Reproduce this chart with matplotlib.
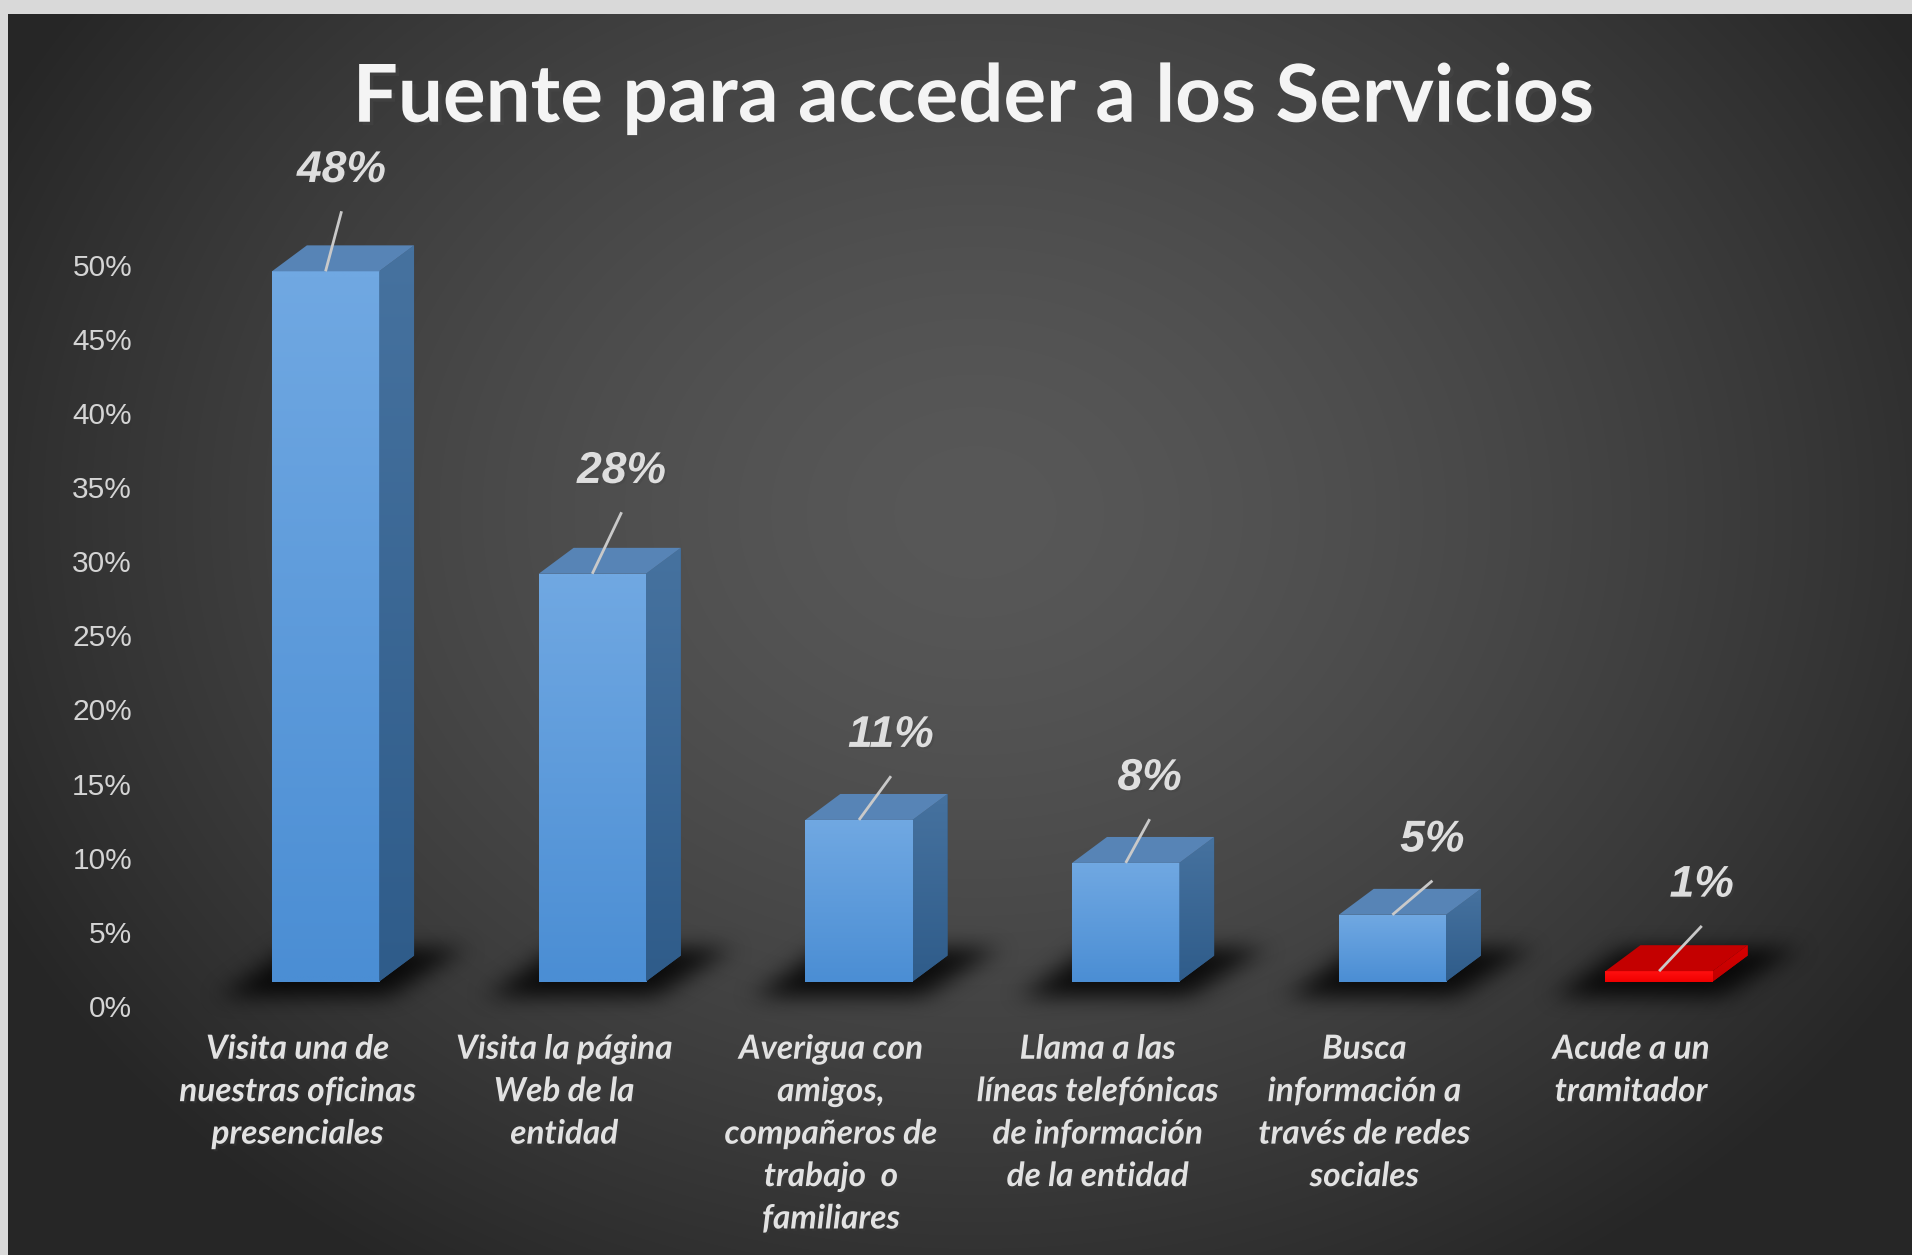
import numpy as np
import matplotlib
matplotlib.use("Agg")
import matplotlib.pyplot as plt
from matplotlib.patches import Polygon
from matplotlib.path import Path
import matplotlib.transforms as mtransforms
import matplotlib.patheffects as pe

# Data
categories = [
    "Visita una de\nnuestras oficinas\npresenciales",
    "Visita la página\nWeb de la\nentidad",
    "Averigua con\namigos,\ncompañeros de\ntrabajo  o\nfamiliares",
    "Llama a las\nlíneas telefónicas\nde información\nde la entidad",
    "Busca\ninformación a\ntravés de redes\nsociales",
    "Acude a un\ntramitador",
]
values = [47.9, 27.5, 10.9, 8.0, 4.5, 0.7]
value_labels = ["48%", "28%", "11%", "8%", "5%", "1%"]
yticks = [0, 5, 10, 15, 20, 25, 30, 35, 40, 45, 50]
ytick_labels = [f"{t}%" for t in yticks]
highlight = [False, False, False, False, False, True]

# Style
W, H = 1912, 1255
front_off = -0.096      # left edge of the front face from category centre
front_w = 0.402
depth_x = 0.131
depth_y = 1.75
base = 1.65             # front face floor (3D offset above the 0% line)
label_dx = [0.06, 0.11, 0.12, 0.09, 0.15, 0.16]
label_dy = [6.8, 6.9, 5.7, 5.7, 5.05, 5.8]

blue = dict(front_top="#70a8e2", front_bot="#4b8ed4", top="#5784b6",
            side_top="#46729f", side_bot="#2f5c8a")
red = dict(front_top="#ff1010", front_bot="#f00000", top="#c40000",
           side_top="#d80000", side_bot="#c00000")

fig = plt.figure(figsize=(W / 100, H / 100), dpi=100)
fig.patch.set_facecolor("#d9d9d9")

# dark radial background panel
px0, py0 = 8, 14
bg = fig.add_axes([px0 / W, 0, (W - px0) / W, (H - py0) / H])
bg.set_zorder(0)
bg.axis("off")
yy, xx = np.mgrid[py0:H, px0:W]
r = np.sqrt(((xx - 975) / 1100.0) ** 2 + ((yy - 512) / 900.0) ** 2)
t = np.clip(r, 0, 1) ** 1.5
g = (0x58 - t * (0x58 - 0x26)) / 255.0
bg.imshow(np.dstack([g, g, g]), aspect="auto", interpolation="bilinear")

ax = fig.add_axes([0.0789, 0.19841, 0.8788, 0.7325])
ax.set_zorder(2)
ax.set_facecolor("none")
ax.set_xlim(-0.55, 5.75)
ax.set_ylim(0, 62)
for s in ax.spines.values():
    s.set_visible(False)
ax.set_yticks(yticks, ytick_labels)
ax.set_xticks([])
ax.tick_params(axis="y", length=0, pad=13.5, labelsize=21.5, labelcolor="#d4d4d4")
for lab in ax.get_yticklabels():
    lab.set_family("Liberation Sans")


def vgrad(c_top, c_bot):
    a = np.array(matplotlib.colors.to_rgb(c_top))
    b = np.array(matplotlib.colors.to_rgb(c_bot))
    s = np.linspace(0, 1, 64)[:, None]
    return (a * (1 - s) + b * s)[:, None, :]


def blur1d(a, rad, axis):
    a = np.moveaxis(a, axis, -1)
    p = np.pad(a, [(0, 0), (rad + 1, rad)], mode="edge")
    c = np.cumsum(p, axis=-1)
    out = (c[:, 2 * rad + 1:] - c[:, :-2 * rad - 1]) / (2 * rad + 1)
    return np.moveaxis(out, -1, axis)


# soft floor shadows, rasterised in pixel space and blurred
mask = np.zeros((H, W))
gy, gx = np.mgrid[0:H, 0:W]
grid = np.column_stack([gx.ravel() + 0.5, gy.ravel() + 0.5])
for i in range(len(values)):
    fl = i + front_off
    pts = [(fl - 0.19, 0.6), (fl + 0.44, 0.6), (fl + 0.72, 3.9), (fl + 0.06, 3.9)]
    path = Path(ax.transData.transform(pts))
    mask += path.contains_points(grid).reshape(H, W)
mask = np.clip(mask, 0, 1)
for _ in range(3):
    mask = blur1d(mask, 9, 0)
    mask = blur1d(mask, 12, 1)
shadow = np.zeros((H, W, 4))
shadow[..., 3] = 0.82 * mask
ov = fig.add_axes([0, 0, 1, 1])
ov.set_zorder(1)
ov.axis("off")
ov.imshow(shadow, extent=[0, W, 0, H], origin="lower", aspect="auto",
          interpolation="bilinear")
ov.set_xlim(0, W)
ov.set_ylim(0, H)

# bars: front faces through ax.bar, then side and top faces
centers = [i + front_off + front_w / 2 for i in range(len(values))]
bars = ax.bar(centers, values, width=front_w, bottom=base, zorder=3,
              color=[red["front_bot"] if h else blue["front_bot"] for h in highlight],
              edgecolor="none")

for i, (bar, v) in enumerate(zip(bars, values)):
    pal = red if highlight[i] else blue
    fl = bar.get_x()
    fr = fl + bar.get_width()
    y0 = bar.get_y()
    y1 = y0 + bar.get_height()
    im = ax.imshow(vgrad(pal["front_top"], pal["front_bot"]), aspect="auto",
                   extent=[fl, fr, y0, y1], zorder=3.1, interpolation="bilinear")
    im.set_clip_path(bar)
    side = Polygon([(fr, y0), (fr + depth_x, y0 + depth_y),
                    (fr + depth_x, y1 + depth_y), (fr, y1)], closed=True,
                   facecolor=pal["side_bot"], edgecolor="none", zorder=3)
    ax.add_patch(side)
    ims = ax.imshow(vgrad(pal["side_top"], pal["side_bot"]), aspect="auto",
                    extent=[fr, fr + depth_x, y0, y1 + depth_y], zorder=3.1,
                    interpolation="bilinear")
    ims.set_clip_path(side)
    ax.add_patch(Polygon([(fl, y1), (fr, y1), (fr + depth_x, y1 + depth_y),
                          (fl + depth_x, y1 + depth_y)], closed=True,
                         facecolor=pal["top"], edgecolor="none", zorder=3.2))

    # data label with leader line
    cx = fl + front_w / 2
    lx, ly = cx + label_dx[i], y1 + label_dy[i]
    ax.plot([lx, cx], [ly - 2.75, y1], color="#c9c9c9", lw=2, zorder=4,
            solid_capstyle="butt")
    ax.text(lx, ly, value_labels[i], ha="center", va="center", fontsize=32,
            fontweight="bold", style="italic", family="Liberation Sans",
            color="#dedede", zorder=5,
            path_effects=[pe.withSimplePatchShadow(offset=(1.5, -1.5), alpha=0.35)])

ax.set_xlim(-0.55, 5.75)
ax.set_ylim(0, 62)

# category labels
trans = mtransforms.blended_transform_factory(ax.transData, fig.transFigure)
for i, cat in enumerate(categories):
    ax.text(i, 0.1755, cat, transform=trans, ha="center", va="top",
            fontsize=24, fontweight="bold", style="italic", family="Lato",
            color="#e2e2e2", linespacing=1.56,
            path_effects=[pe.withSimplePatchShadow(offset=(1.5, -1.5), alpha=0.3)])

fig.text(0.509, 0.903, "Fuente para acceder a los Servicios", ha="center",
         va="baseline", fontsize=57.5, fontweight="bold", family="Lato",
         color="#f4f4f4",
         path_effects=[pe.withSimplePatchShadow(offset=(2.5, -2.5), alpha=0.45)])

fig.savefig("out.png", dpi=100)
